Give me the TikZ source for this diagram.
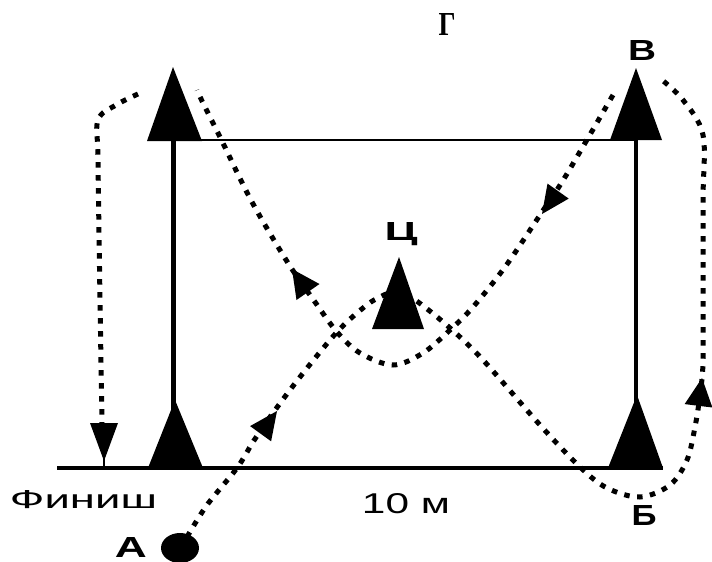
\documentclass[tikz,border=0pt]{standalone}
\usepackage{fontspec}
\setmainfont{Liberation Serif}
\setsansfont{Liberation Sans}
\usepackage{graphicx}
\begin{document}
\begin{tikzpicture}[x=1pt,y=-1pt,
  route/.style={line width=5pt, dash pattern=on 5.5pt off 7.5pt},
  conefill/.style={fill=black},
  tipfill/.style={fill=black},
  lbl/.style={inner sep=0pt, anchor=base},
]
\useasboundingbox (0,0) rectangle (712,562);
\clip (0,0) rectangle (712,562);

% field lines
\draw[line width=2.5pt] (175,140) -- (636,140);
\draw[line width=5pt] (173,140) -- (173,468);
\draw[line width=4pt] (636,140) -- (636,468);
\draw[line width=4pt] (57,468) -- (663,468);

% routes
\draw[route] plot[smooth, tension=0.55] coordinates {(187,537) (207,505) (237,468) (253,442) (270,417) (300,377) (337,332) (363,308) (378,298) (398,291) (418,302) (450,328) (483,360) (540,425) (580,467) (607,488) (640,497) (670,485) (687,460) (695,427) (700,395) (703,363) (703,300) (703,200) (703,135) (683,100) (662,80)};
\draw[route] plot[smooth, tension=0.55] coordinates {(613,95) (588,138) (562,182) (540,215) (505,267) (473,307) (450,330) (423,353) (393,365) (360,353) (337,332) (315,302) (288,263) (252,202) (220,137) (203,103) (197,90)};
\draw[route] plot[smooth, tension=0.55] coordinates {(138,94) (116,105) (98,120) (98,160) (100,300) (102,423)};

% cones
\fill[conefill] (173,67) -- (202,141) -- (147,141) -- cycle;
\fill[conefill] (636,68) -- (662,140) -- (610,140) -- cycle;
\fill[conefill] (175,400) -- (203,468) -- (148,468) -- cycle;
\fill[conefill] (637,395) -- (663,468) -- (608,468) -- cycle;
\fill[conefill] (399,257) -- (424,329) -- (372,329) -- cycle;

% arrowheads
\fill[tipfill] (277,411) -- (271.1,441.3) -- (250.1,426.1) -- cycle;
\fill[tipfill] (542,214) -- (568.7,198.6) -- (547.5,183.6) -- cycle;
\fill[tipfill] (292,269) -- (319.5,284) -- (296.5,300) -- cycle;
\fill[tipfill] (702,378) -- (712.4,407.5) -- (684.6,404.1) -- cycle;
\fill[tipfill] (104,461) -- (118,423) -- (90,423) -- cycle;
\draw[line width=2pt] (104,458) -- (104,468);

% start point
\fill (180,548) ellipse [x radius=19pt, y radius=15pt];

% labels
\node[lbl] (g) at (447,35) {\resizebox{17pt}{22pt}{\bfseries Г}};
\node[lbl] (v) at (642,60) {\resizebox{28pt}{20pt}{\sffamily\bfseries В}};
\node[lbl] (b) at (644,525) {\resizebox{25pt}{20pt}{\sffamily\bfseries Б}};
\node[lbl] (c) at (401,240) {\resizebox{33pt}{18pt}{\sffamily\bfseries Ц}};
\node[lbl] (a) at (131,557) {\resizebox{32pt}{20pt}{\sffamily\bfseries А}};
\node[lbl] (fin) at (83.5,508) {\resizebox{147pt}{18pt}{\sffamily Финиш}};
\node[lbl] (ten) at (406,513) {\resizebox{88pt}{20pt}{\sffamily 10 м}};
\end{tikzpicture}
\end{document}
